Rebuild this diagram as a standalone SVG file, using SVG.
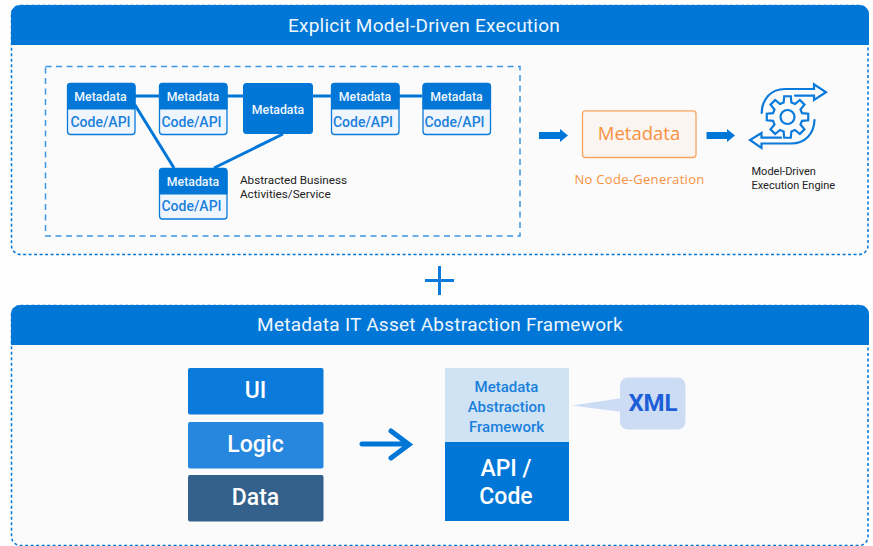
<svg xmlns="http://www.w3.org/2000/svg" width="873" height="546" viewBox="0 0 873 546">
<style>
text{font-family:Roboto,"Liberation Sans",sans-serif;text-anchor:middle}
.panel{fill:#fbfbfc;stroke:#0076d7;stroke-width:1.5;stroke-dasharray:3 2.5}
.head{fill:#0076d7}
.title{fill:#eef6fd;font-size:19px;letter-spacing:.25px}
.hd{fill:#0076d7;stroke:#0076d7;stroke-width:1}
.body{fill:#eff5fc;stroke:#0a7adb;stroke-width:1.3}
.mw{fill:#f0f6fd;font-size:12.3px;font-weight:500}
.mb{fill:#1a80dc;font-size:14px;font-weight:500}
.blk{fill:#222;font-size:11.7px}
.big{fill:#fff;font-size:23px;font-weight:500}
.link{stroke:#0076d7;stroke-width:3;fill:none}
.ic{fill:none;stroke:#0a7adb;stroke-width:2.2;stroke-linejoin:miter;stroke-linecap:round}
</style>
<rect width="873" height="546" fill="#fefefe"/>
<g id="panel-top">
<rect class="panel" x="11.500" y="5.500" width="856.500" height="249" rx="9"/>
<path class="head" d="M11 45V14a9 9 0 0 1 9-9H860a9 9 0 0 1 9 9V45Z"/>
<text class="title" x="424" y="32">Explicit Model-Driven Execution</text>
</g>
<g id="panel-bottom">
<rect class="panel" x="11.500" y="305.500" width="856.500" height="240" rx="9"/>
<path class="head" d="M11 345V314a9 9 0 0 1 9-9H860a9 9 0 0 1 9 9V345Z"/>
<text class="title" x="440" y="331">Metadata IT Asset Abstraction Framework</text>
</g>
<rect id="group-box" x="45.500" y="66.500" width="474.500" height="169.500" fill="none" stroke="#3d97e4" stroke-width="1.500" stroke-dasharray="6 4.500"/>
<g id="connectors">
<path class="link" d="M135 96H422M135 105L174 168M283 134L214 168"/>
<path d="M539 132H560V129L568 135.500L560 142V139H539Z" fill="#0076d7"/>
<path d="M706.500 132H727V129L735 135.500L727 142V139H706.500Z" fill="#0076d7"/>
<path d="M362 444H407M391 431L409 444.500L391 458" fill="none" stroke="#0076d7" stroke-width="5" stroke-linecap="round"/>
</g>
<g id="node-1"><rect class="body" x="67.500" y="83.500" width="67.500" height="51" rx="3"/><path class="hd" d="M67.500 109V86.500a3 3 0 0 1 3-3H132a3 3 0 0 1 3 3V109Z"/><text class="mw" x="100.500" y="101">Metadata</text><text class="mb" x="100.500" y="127">Code/API</text></g>
<g id="node-2"><rect class="body" x="159.500" y="83.500" width="67.500" height="51" rx="3"/><path class="hd" d="M159.500 109V86.500a3 3 0 0 1 3-3H224a3 3 0 0 1 3 3V109Z"/><text class="mw" x="193" y="101">Metadata</text><text class="mb" x="191.500" y="127">Code/API</text></g>
<g id="node-3"><rect x="243" y="83" width="70" height="51" rx="3.500" fill="#0076d7"/><text class="mw" x="278" y="114">Metadata</text></g>
<g id="node-4"><rect class="body" x="331.500" y="83.500" width="67.500" height="51" rx="3"/><path class="hd" d="M331.500 109V86.500a3 3 0 0 1 3-3H396a3 3 0 0 1 3 3V109Z"/><text class="mw" x="365" y="101">Metadata</text><text class="mb" x="363" y="127">Code/API</text></g>
<g id="node-5"><rect class="body" x="423" y="83.500" width="67.500" height="51" rx="3"/><path class="hd" d="M423 109V86.500a3 3 0 0 1 3-3H487.500a3 3 0 0 1 3 3V109Z"/><text class="mw" x="456.500" y="101">Metadata</text><text class="mb" x="454.500" y="127">Code/API</text></g>
<g id="node-6"><rect class="body" x="159.500" y="168.500" width="67.500" height="50.500" rx="3"/><path class="hd" d="M159.500 194V171.500a3 3 0 0 1 3-3H224a3 3 0 0 1 3 3V194Z"/><text class="mw" x="193" y="186">Metadata</text><text class="mb" x="191.500" y="211">Code/API</text></g>
<g id="note"><text class="blk" x="240" y="184" style="text-anchor:start">Abstracted Business</text><text class="blk" x="240" y="198" style="text-anchor:start">Activities/Service</text></g>
<g id="metadata-box">
<rect x="582.500" y="110.800" width="113.500" height="46.700" rx="3" fill="#fbf5f1" stroke="#f8a45e" stroke-width="1.300"/>
<text x="639" y="140" fill="#f8913d" font-size="18.500" font-weight="500" style="font-family:'Open Sans','Liberation Sans',sans-serif">Metadata</text>
<text x="639.500" y="184" fill="#f8913d" font-size="13" font-weight="500" letter-spacing=".3" style="font-family:'Open Sans','Liberation Sans',sans-serif">No Code-Generation</text>
</g>
<g id="engine">
<path class="ic" transform="translate(787.500 117)" d="M-3.880-14.490L-3.290-20.740L3.290-20.740L3.880-14.490L7.500-12.990L12.340-16.990L16.990-12.340L12.990-7.500L14.490-3.880L20.740-3.290L20.740 3.290L14.490 3.880L12.990 7.500L16.990 12.340L12.340 16.990L7.500 12.990L3.880 14.490L3.290 20.740L-3.290 20.740L-3.880 14.490L-7.500 12.990L-12.340 16.990L-16.990 12.340L-12.990 7.500L-14.490 3.880L-20.740 3.290L-20.740-3.290L-14.490-3.880L-12.990-7.500L-16.990-12.340L-12.340-16.990L-7.500-12.990Z"/>
<circle class="ic" cx="787.500" cy="117" r="7"/>
<path class="ic" d="M761.700 113C762 99 771 89 785 89H814V84.300L826 92.300L814 100V95.700H795"/>
<path class="ic" d="M814.500 120C814 134 805 143.500 791 143.500H761.500V148L750 140L761.500 133V137.700H781"/>
<text class="blk" x="751.500" y="175" font-size="11" style="text-anchor:start;font-size:11px">Model-Driven</text>
<text class="blk" x="751.500" y="189" style="text-anchor:start;font-size:11px">Execution Engine</text>
</g>
<path id="plus" d="M425 280.500H454M439.500 266V295" stroke="#0a7adb" stroke-width="3" fill="none"/>
<g id="ui"><rect x="188" y="368" width="135.500" height="46.500" rx="2" fill="#0a7adb"/><text class="big" x="255.500" y="398">UI</text></g>
<g id="logic"><rect x="188" y="422" width="135.500" height="46.500" rx="2" fill="#2787de"/><text class="big" x="255.500" y="452">Logic</text></g>
<g id="data"><rect x="188" y="475" width="135.500" height="46.500" rx="2" fill="#33618c"/><text class="big" x="255.500" y="505">Data</text></g>
<g id="framework">
<rect x="445" y="368" width="124" height="74" fill="#cfe3f5"/>
<text x="506.500" y="392" fill="#1a80dc" font-size="15" font-weight="500">Metadata</text>
<text x="506.500" y="412" fill="#1a80dc" font-size="15" font-weight="500">Abstraction</text>
<text x="506.500" y="432" fill="#1a80dc" font-size="15" font-weight="500">Framework</text>
</g>
<g id="api"><rect x="445" y="442" width="124" height="79" fill="#0076d7"/><text class="big" x="506" y="476">API /</text><text class="big" x="506" y="504">Code</text></g>
<g id="xml">
<path d="M572 405.500L622 398V412Z" fill="#cddcf5"/>
<rect x="620" y="377.500" width="65.500" height="52" rx="8" fill="#cddcf5"/>
<text x="653" y="411" fill="#1d5fd8" font-size="24" font-weight="700">XML</text>
</g>
</svg>
